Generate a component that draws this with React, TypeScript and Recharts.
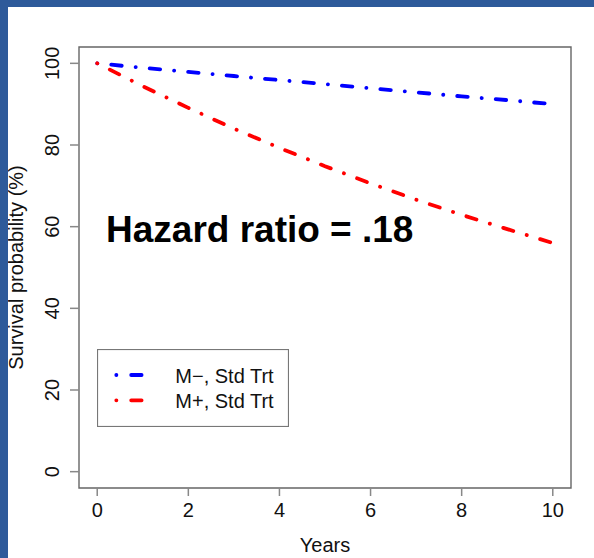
import React from "react";
import {
  LineChart,
  Line,
  XAxis,
  YAxis,
  ReferenceArea,
  Legend,
  Customized,
} from "recharts";

// ---- data ----
const years = [0, 1, 2, 3, 4, 5, 6, 7, 8, 9, 10];
const mNegStd = [100, 98.9, 97.9, 96.9, 95.9, 94.9, 93.9, 92.9, 91.9, 91.0, 90.0];
const mPosStd = [100, 94.4, 89.1, 84.0, 79.3, 74.8, 70.6, 66.6, 62.9, 59.4, 56.0];
const xTicks = [0, 2, 4, 6, 8, 10];
const yTicks = [0, 20, 40, 60, 80, 100];
const seriesNames = ["M\u2212, Std Trt", "M+, Std Trt"];
const seriesColors = ["#0000FF", "#FF0000"];
const annotation = "Hazard ratio = .18";
const xTitle = "Years";
const yTitle = "Survival probability (%)";

const rows = years.map((t, i) => ({ t, mneg: mNegStd[i], mpos: mPosStd[i] }));

const FONT = "'Liberation Sans', Arial, Helvetica, sans-serif";
const DASH = "0.1 14 10.5 14";
const LW = 3.8;

const YTick = (props: any) => {
  const { x, y, payload } = props;
  return (
    <text
      x={x}
      y={y}
      transform={`rotate(-90 ${x} ${y})`}
      textAnchor="middle"
      fontSize={20}
      fontFamily={FONT}
      fill="#111"
    >
      {payload.value}
    </text>
  );
};

const YTitle = (props: any) => {
  const vb = props.viewBox || { x: 0, y: 40, width: 71, height: 441 };
  const x = 15;
  const y = vb.y + vb.height / 2;
  return (
    <text
      x={x}
      y={y}
      transform={`rotate(-90 ${x} ${y})`}
      textAnchor="middle"
      fontSize={20}
      fontFamily={FONT}
      fill="#111"
    >
      {yTitle}
    </text>
  );
};

const XTitle = (props: any) => {
  const vb = props.viewBox || { x: 71, y: 481, width: 492, height: 70 };
  return (
    <text
      x={vb.x + vb.width / 2}
      y={vb.y + 63.5}
      textAnchor="middle"
      fontSize={20}
      fontFamily={FONT}
      fill="#111"
    >
      {xTitle}
    </text>
  );
};

const Annotation = () => (
  <text x={98} y={234.7} fontSize={37} fontWeight="bold" fontFamily={FONT} fill="#000">
    {annotation}
  </text>
);

const LegendBox = () => (
  <svg width={192} height={78} style={{ display: "block" }}>
    <rect x={0.5} y={0.5} width={191} height={77} fill="#fff" stroke="#777" strokeWidth={1.2} />
    {seriesNames.map((name, i) => {
      const ly = i === 0 ? 26 : 51.3;
      const ty = i === 0 ? 34.3 : 59.3;
      return (
        <g key={name}>
          <line
            x1={19.3}
            y1={ly}
            x2={44.6}
            y2={ly}
            stroke={seriesColors[i]}
            strokeWidth={LW}
            strokeLinecap="round"
            strokeDasharray="0.1 14.8 10.5 100"
          />
          <text x={78.3} y={ty} fontSize={20} fontFamily={FONT} fill="#111">
            {name}
          </text>
        </g>
      );
    })}
  </svg>
);

export default function App() {
  return (
    <div
      style={{
        position: "fixed",
        left: 0,
        top: 0,
        width: 594,
        height: 558,
        background: "#2E5A9A",
        overflow: "hidden",
      }}
    >
      <div
        style={{
          position: "absolute",
          left: 8,
          top: 7,
          width: 586,
          height: 551,
          background: "#fff",
        }}
      >
        <LineChart
          width={586}
          height={551}
          data={rows}
          margin={{ top: 40, right: 23, left: 0, bottom: 0 }}
        >
          <XAxis
            type="number"
            dataKey="t"
            domain={[-0.4, 10.4]}
            ticks={xTicks}
            allowDataOverflow
            axisLine={false}
            tickLine={{ stroke: "#888", strokeWidth: 1.5 }}
            tickSize={8}
            tickMargin={7}
            tick={{ fontSize: 20, fill: "#111", fontFamily: FONT }}
            height={70}
            label={{ content: XTitle }}
          />
          <YAxis
            type="number"
            domain={[-4, 104]}
            ticks={yTicks}
            allowDataOverflow
            axisLine={false}
            tickLine={{ stroke: "#888", strokeWidth: 1.5 }}
            tickSize={9}
            tickMargin={11}
            tick={YTick}
            width={71}
            label={{ content: YTitle }}
          />
          <ReferenceArea
            x1={-0.4}
            x2={10.4}
            y1={-4}
            y2={104}
            fill="none"
            fillOpacity={0}
            stroke="#666"
            strokeWidth={1.4}
            ifOverflow="visible"
          />
          <Line
            type="linear"
            dataKey="mneg"
            name={seriesNames[0]}
            stroke={seriesColors[0]}
            strokeWidth={LW}
            strokeDasharray={DASH}
            strokeLinecap="round"
            dot={false}
            activeDot={false}
            isAnimationActive={false}
          />
          <Line
            type="linear"
            dataKey="mpos"
            name={seriesNames[1]}
            stroke={seriesColors[1]}
            strokeWidth={LW}
            strokeDasharray={DASH}
            strokeLinecap="round"
            dot={false}
            activeDot={false}
            isAnimationActive={false}
          />
          <Legend
            layout="horizontal"
            verticalAlign="middle"
            align="center"
            content={LegendBox}
            wrapperStyle={{ position: "absolute", left: 88.7, top: 342, width: 192, height: 78 }}
          />
          <Customized component={Annotation} />
        </LineChart>
      </div>
    </div>
  );
}
